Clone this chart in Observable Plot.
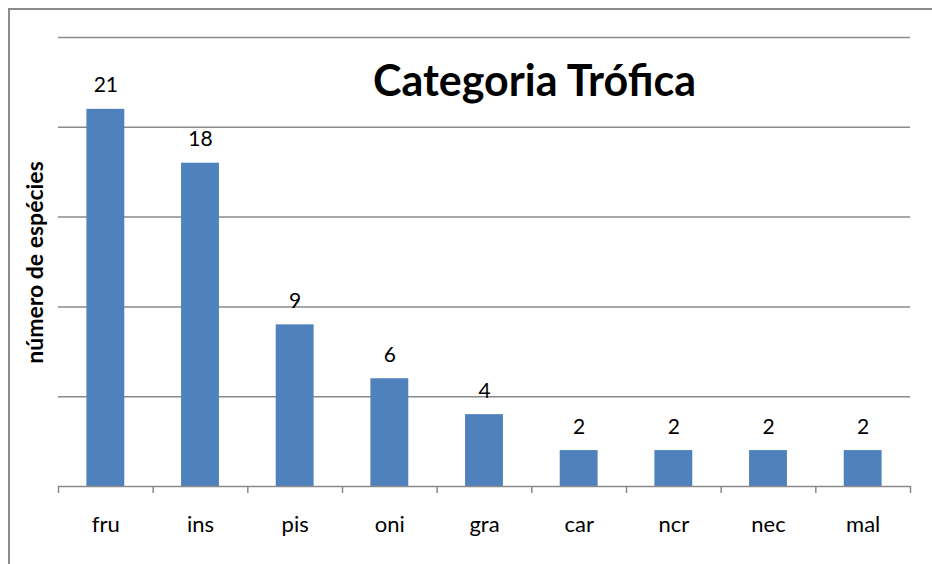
<!DOCTYPE html>
<html>
<head>
<meta charset="utf-8">
<script src="https://cdn.jsdelivr.net/npm/d3@7"></script>
<script src="https://cdn.jsdelivr.net/npm/@observablehq/plot@0.6"></script>
<style>
  html, body { margin: 0; padding: 0; background: #fff; overflow: hidden; }
  #wrap { position: relative; width: 932px; height: 564px; overflow: hidden; }
  #border { position: absolute; left: 8px; top: 8px; width: 2000px; height: 2000px;
            border-left: 2px solid #8c8c8c; border-top: 2px solid #8c8c8c; pointer-events: none; }
</style>
</head>
<body>
<div id="wrap"><div id="border"></div></div>
<script>
const categories = ["fru", "ins", "pis", "oni", "gra", "car", "ncr", "nec", "mal"];
const values = [21, 18, 9, 6, 4, 2, 2, 2, 2];
const gridTicks = [5, 10, 15, 20, 25];
const title = "Categoria Trófica";
const yLabel = "número de espécies";

const data = categories.map((c, i) => ({category: c, value: values[i]}));

const W = 932, H = 564;
const mL = 58, mR = 22, mT = 37, mB = 78;
const step = (W - mL - mR) / categories.length;
const gray = "#8a8a8a";
const font = "Lato, 'Open Sans', sans-serif";

const chart = Plot.plot({
  width: W, height: H,
  marginLeft: mL, marginRight: mR, marginTop: mT, marginBottom: mB,
  style: {fontFamily: font, background: "transparent", color: "#000"},
  x: {domain: categories, paddingInner: 0.6, paddingOuter: 0.3, round: false, axis: null},
  y: {domain: [0, 25], axis: null},
  marks: [
    Plot.ruleY(gridTicks, {stroke: gray, strokeWidth: 1.5}),
    Plot.barY(data, {x: "category", y: "value", fill: "#4f81bd"}),
    Plot.ruleY([0], {stroke: gray, strokeWidth: 1.5}),
    Plot.axisX({tickSize: 7, tickFormat: () => "", label: null, dx: -step / 2, stroke: gray, strokeWidth: 1.5}),
    Plot.axisX({ticks: [categories[categories.length - 1]], tickSize: 7, tickFormat: () => "", label: null, dx: step / 2, stroke: gray, strokeWidth: 1.5}),
    Plot.axisX({tickSize: 0, tickPadding: 30, label: null, fontSize: 22, fill: "#000", lineAnchor: "top"}),
    Plot.text(data, {x: "category", y: "value", text: d => String(d.value), dy: -17, lineAnchor: "bottom", fontSize: 21, fill: "#000"}),
    Plot.text([title], {frameAnchor: "top", dx: 534 - (mL + (W - mR)) / 2, dy: 45, lineAnchor: "middle", fontSize: 43, fontWeight: "bold", fill: "#000"}),
    Plot.text([yLabel], {frameAnchor: "left", textAnchor: "middle", dx: 35 - mL, dy: 262 - (mT + (H - mB)) / 2 , rotate: -90, fontSize: 23, fontWeight: "bold", fill: "#000"})
  ]
});
chart.style.position = "absolute";
chart.style.left = "0";
chart.style.top = "0";
document.getElementById("wrap").appendChild(chart);
</script>
</body>
</html>
